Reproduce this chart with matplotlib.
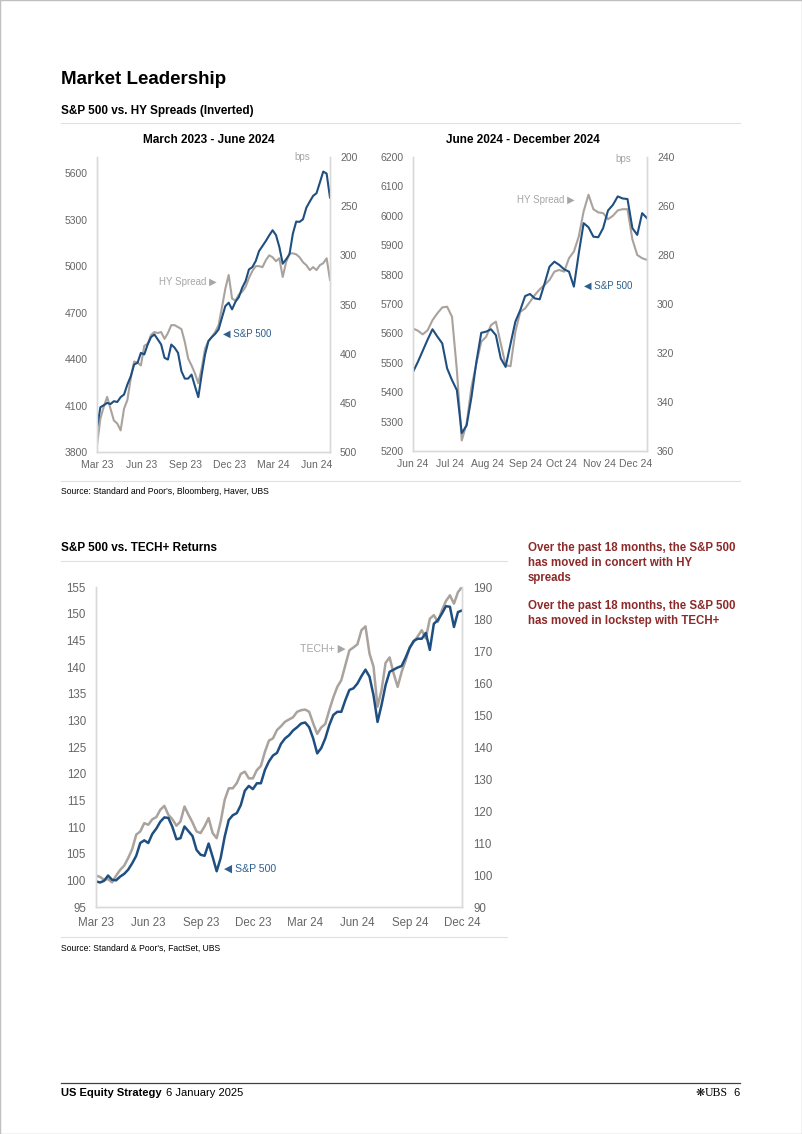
import matplotlib
matplotlib.use("Agg")
import matplotlib.pyplot as plt
import matplotlib.dates as mdates
import pandas as pd
from matplotlib.patches import Rectangle

plt.rcParams['font.family'] = ['Liberation Sans', 'DejaVu Sans']

# Chart 1: March 2023 - June 2024 (weekly)
spx_1 = [3955, 4089, 4102, 4117, 4110, 4128, 4123, 4154, 4171, 4236,
         4289, 4365, 4376, 4440, 4430, 4494, 4542, 4559, 4527, 4494,
         4408, 4397, 4494, 4473, 4440, 4322, 4274, 4274, 4300, 4225,
         4154, 4300, 4430, 4516, 4542, 4563, 4591, 4667, 4742, 4764,
         4721, 4770, 4800, 4861, 4904, 4979, 4994, 5033, 5098, 5130,
         5163, 5199, 5232, 5201, 5124, 5016, 5044, 5076, 5210, 5288,
         5286, 5303, 5378, 5417, 5454, 5471, 5540, 5611, 5598, 5443]
hy_1 = [493, 466, 454, 444, 456, 468, 471, 478, 456, 447,
        425, 408, 409, 412, 392, 390, 381, 378, 379, 378,
        385, 379, 371, 371, 373, 375, 388, 405, 412, 420,
        430, 415, 395, 387, 383, 378, 371, 353, 334, 320,
        344, 346, 340, 337, 332, 323, 316, 311, 311, 312,
        305, 300, 302, 306, 303, 322, 307, 298, 298, 299,
        302, 307, 310, 315, 312, 315, 310, 308, 303, 325]
dates_1 = pd.date_range('2023-03-01', '2024-06-28', periods=len(spx_1))

# Chart 2: June 2024 - December 2024
spx_2 = [5469, 5503, 5541, 5579, 5614, 5589, 5566, 5481, 5441, 5407,
         5261, 5287, 5384, 5503, 5602, 5606, 5614, 5594, 5515, 5486,
         5564, 5640, 5679, 5727, 5734, 5719, 5716, 5770, 5827, 5844,
         5833, 5818, 5810, 5759, 5872, 5975, 5961, 5929, 5927, 5958,
         6018, 6037, 6066, 6059, 6057, 5958, 5935, 6009, 5992]
hy_2 = [310.0, 310.9, 312.4, 310.7, 306.6, 303.8, 301.4, 301.1, 305.2, 327.0,
        355.7, 348.8, 333.8, 324.3, 315.4, 313.4, 308.6, 307.2, 316.1, 325.0,
        325.4, 311.3, 303.2, 301.8, 299.1, 296.3, 294.0, 292.2, 290.2, 286.8,
        286.1, 286.8, 281.3, 278.6, 272.5, 262.2, 255.4, 261.3, 262.6, 262.9,
        265.4, 264.0, 261.8, 261.3, 261.3, 273.6, 280.0, 281.3, 282.0]
dates_2 = pd.date_range('2024-06-01', '2024-12-10', periods=len(spx_2))

# Chart 3: S&P 500 vs TECH+ (rebased)
spx_3 = [99.8, 99.6, 99.9, 100.9, 100.1, 100.0, 100.7, 101.2, 102.0, 103.2,
         104.6, 107.0, 107.5, 107.0, 108.7, 109.7, 111.0, 111.8, 111.7, 110.0,
         107.7, 107.9, 110.1, 109.2, 108.3, 105.7, 104.8, 104.6, 106.9, 104.4,
         101.7, 104.2, 108.2, 111.3, 112.2, 112.6, 114.1, 116.8, 117.7, 117.1,
         118.2, 118.2, 120.7, 122.3, 123.4, 123.9, 125.6, 126.6, 127.2, 128.1,
         128.7, 129.4, 129.6, 128.7, 126.6, 123.8, 124.8, 126.6, 129.1, 131.0,
         131.6, 131.6, 133.8, 135.7, 136.0, 136.9, 138.3, 139.5, 138.2, 134.7,
         129.7, 132.9, 136.6, 139.1, 139.5, 139.9, 140.2, 141.8, 143.6, 144.9,
         145.3, 145.3, 146.4, 143.2, 148.1, 148.8, 150.0, 151.4, 151.3, 147.5,
         150.3, 150.6]
tech_3 = [99.8, 99.4, 98.5, 98.7, 97.7, 99.8, 101.6, 102.9, 105.3, 108.1,
          112.6, 113.6, 116.2, 115.7, 117.4, 118.1, 120.4, 121.6, 118.8, 117.4,
          115.4, 116.7, 121.4, 118.8, 116.4, 113.6, 113.1, 115.2, 117.8, 113.1,
          111.5, 116.7, 123.5, 127.1, 127.1, 128.7, 131.6, 132.3, 130.2, 130.2,
          132.8, 134.1, 138.5, 142.0, 142.7, 145.3, 146.5, 147.9, 148.6, 149.3,
          151.0, 151.5, 151.7, 151.0, 147.4, 144.1, 146.1, 147.2, 151.5, 155.5,
          158.8, 160.9, 165.6, 170.2, 171.1, 172.1, 176.5, 177.7, 169.2, 165.1,
          152.6, 157.8, 166.3, 168.0, 163.0, 158.8, 163.5, 167.1, 171.1, 172.8,
          174.6, 176.5, 173.9, 180.1, 181.2, 179.1, 182.7, 185.6, 187.4, 184.8,
          188.4, 190.0]
dates_3 = pd.date_range('2023-03-01', '2024-12-01', periods=len(spx_3))

BLUE = '#1f4f80'
GREY = '#aaa29c'
TICK = '#666666'
SPINE = '#d9d9d9'
RED = '#8c2a2a'

W, H = 802, 1134
fig = plt.figure(figsize=(W / 100, H / 100), dpi=100)


def px_axes(l, t, r, b):
    return fig.add_axes([l / W, 1 - b / H, (r - l) / W, (b - t) / H])


def ftext(x, y, s, **kw):
    kw.setdefault('va', 'center')
    return fig.text(x / W, 1 - y / H, s, **kw)


def hline(y, x0, x1, color='#e0e0e0', lw=0.8):
    fig.add_artist(plt.Line2D([x0 / W, x1 / W], [1 - y / H, 1 - y / H],
                              color=color, lw=lw))


def style(ax, ax2, fs, lpad, rpad, bpad):
    for a in (ax, ax2):
        a.spines['top'].set_visible(False)
        for s in ('left', 'right', 'bottom'):
            a.spines[s].set_color(SPINE)
            a.spines[s].set_linewidth(1.0)
    ax.tick_params(axis='y', length=0, labelsize=fs, colors=TICK, pad=lpad)
    ax.tick_params(axis='x', length=0, labelsize=fs, colors=TICK, pad=bpad)
    ax2.tick_params(axis='y', length=0, labelsize=fs, colors=TICK, pad=rpad)
    ax.set_zorder(ax2.get_zorder() + 1)
    ax.patch.set_visible(False)


# page border
fig.add_artist(Rectangle((0, 0), 1, 1, transform=fig.transFigure,
                         fill=False, ec='#bfbfbf', lw=1.0))

# headings
ftext(61, 79, 'Market Leadership', fontsize=13.5, fontweight='bold')
ftext(61, 111, 'S&P 500 vs. HY Spreads (Inverted)', fontsize=8.5, fontweight='bold')
hline(123, 61, 740)
ftext(209, 140, 'March 2023 - June 2024', fontsize=8.5, fontweight='bold', ha='center')
ftext(523, 140, 'June 2024 - December 2024', fontsize=8.5, fontweight='bold', ha='center')

# chart 1
ax1 = px_axes(97, 157, 330, 452)
ax1b = ax1.twinx()
ax1.plot(dates_1, spx_1, color=BLUE, lw=1.5, solid_joinstyle='round')
ax1b.plot(dates_1, hy_1, color=GREY, lw=1.5, solid_joinstyle='round')
ax1.set_ylim(3800, 5705)
ax1.set_yticks(range(3800, 5601, 300))
ax1b.set_ylim(500, 200)
ax1b.set_yticks(range(200, 501, 50))
ax1.set_xlim(dates_1[0], dates_1[-1])
ax1.xaxis.set_major_locator(mdates.MonthLocator(bymonth=[3, 6, 9, 12]))
ax1.xaxis.set_major_formatter(mdates.DateFormatter('%b %y'))
style(ax1, ax1b, 7.5, 6.5, 7.2, 5.5)
ax1.text(0.88, 1.0, 'bps', transform=ax1.transAxes, fontsize=7, color='#a6a6a6',
         ha='center', va='center')
ax1.annotate('HY Spread \u25B6', xy=(217 / W, 1 - 282 / H), xycoords='figure fraction',
             fontsize=7, color='#a6a6a6', ha='right', va='center')
ax1.annotate('\u25C0 S&P 500', xy=(223 / W, 1 - 334 / H), xycoords='figure fraction',
             fontsize=7, color='#2f5f8f', ha='left', va='center')

# chart 2
ax2 = px_axes(413, 157, 647, 451)
ax2b = ax2.twinx()
ax2.plot(dates_2, spx_2, color=BLUE, lw=1.5, solid_joinstyle='round')
ax2b.plot(dates_2, hy_2, color=GREY, lw=1.5, solid_joinstyle='round')
ax2.set_ylim(5200, 6200)
ax2.set_yticks(range(5200, 6201, 100))
ax2b.set_ylim(360, 240)
ax2b.set_yticks(range(240, 361, 20))
ax2.set_xlim(dates_2[0], dates_2[-1])
ax2.xaxis.set_major_locator(mdates.MonthLocator())
ax2.xaxis.set_major_formatter(mdates.DateFormatter('%b %y'))
style(ax2, ax2b, 7.5, 6.5, 7.2, 5.5)
ax2.text(0.90, 0.993, 'bps', transform=ax2.transAxes, fontsize=7, color='#a6a6a6',
         ha='center', va='center')
ax2.annotate('HY Spread \u25B6', xy=(575 / W, 1 - 200 / H), xycoords='figure fraction',
             fontsize=7, color='#a6a6a6', ha='right', va='center')
ax2.annotate('\u25C0 S&P 500', xy=(584 / W, 1 - 286 / H), xycoords='figure fraction',
             fontsize=7, color='#2f5f8f', ha='left', va='center')

hline(481, 61, 740)
ftext(61, 492, "Source: Standard and Poor's, Bloomberg, Haver, UBS", fontsize=6.2)

# chart 3
ftext(61, 548, 'S&P 500 vs. TECH+ Returns', fontsize=8.5, fontweight='bold')
hline(561, 61, 507)
ax3 = px_axes(96, 587, 462, 907)
ax3b = ax3.twinx()
ax3.plot(dates_3, spx_3, color=BLUE, lw=1.8, solid_joinstyle='round')
ax3b.plot(dates_3, tech_3, color=GREY, lw=1.8, solid_joinstyle='round')
ax3.set_ylim(95, 155)
ax3.set_yticks(range(95, 156, 5))
ax3b.set_ylim(90, 190)
ax3b.set_yticks(range(90, 191, 10))
ax3.set_xlim(dates_3[0], dates_3[-1])
ax3.xaxis.set_major_locator(mdates.MonthLocator(bymonth=[3, 6, 9, 12]))
ax3.xaxis.set_major_formatter(mdates.DateFormatter('%b %y'))
style(ax3, ax3b, 8.3, 7.2, 8.0, 7.0)
ax3.annotate('TECH+ \u25B6', xy=(346 / W, 1 - 649 / H), xycoords='figure fraction',
             fontsize=7.6, color='#a6a6a6', ha='right', va='center')
ax3.annotate('\u25C0 S&P 500', xy=(224 / W, 1 - 869 / H), xycoords='figure fraction',
             fontsize=7.6, color='#2f5f8f', ha='left', va='center')
hline(937, 61, 507)
ftext(61, 948, "Source: Standard & Poor's, FactSet, UBS", fontsize=6.2)

# commentary
ftext(528, 548, 'Over the past 18 months, the S&P 500', fontsize=8.3,
      fontweight='bold', color=RED)
ftext(528, 563, 'has moved in concert with HY', fontsize=8.3,
      fontweight='bold', color=RED)
ftext(528, 578, 'spreads', fontsize=8.3, fontweight='bold', color=RED)
ftext(528, 606, 'Over the past 18 months, the S&P 500', fontsize=8.3,
      fontweight='bold', color=RED)
ftext(528, 621, 'has moved in lockstep with TECH+', fontsize=8.3,
      fontweight='bold', color=RED)

# footer
hline(1083, 61, 740, color='#404040', lw=0.9)
ftext(61, 1093, 'US Equity Strategy', fontsize=8, fontweight='bold')
ftext(166, 1093, '6 January 2025', fontsize=8)
ftext(740, 1093, '6', fontsize=8, ha='right')
ftext(728, 1093, 'UBS', fontsize=8.5, ha='right', family=['Liberation Serif'])
ftext(705, 1093, '\u274B', fontsize=8, ha='right', family=['DejaVu Sans'])

fig.savefig('out.png', dpi=100)
